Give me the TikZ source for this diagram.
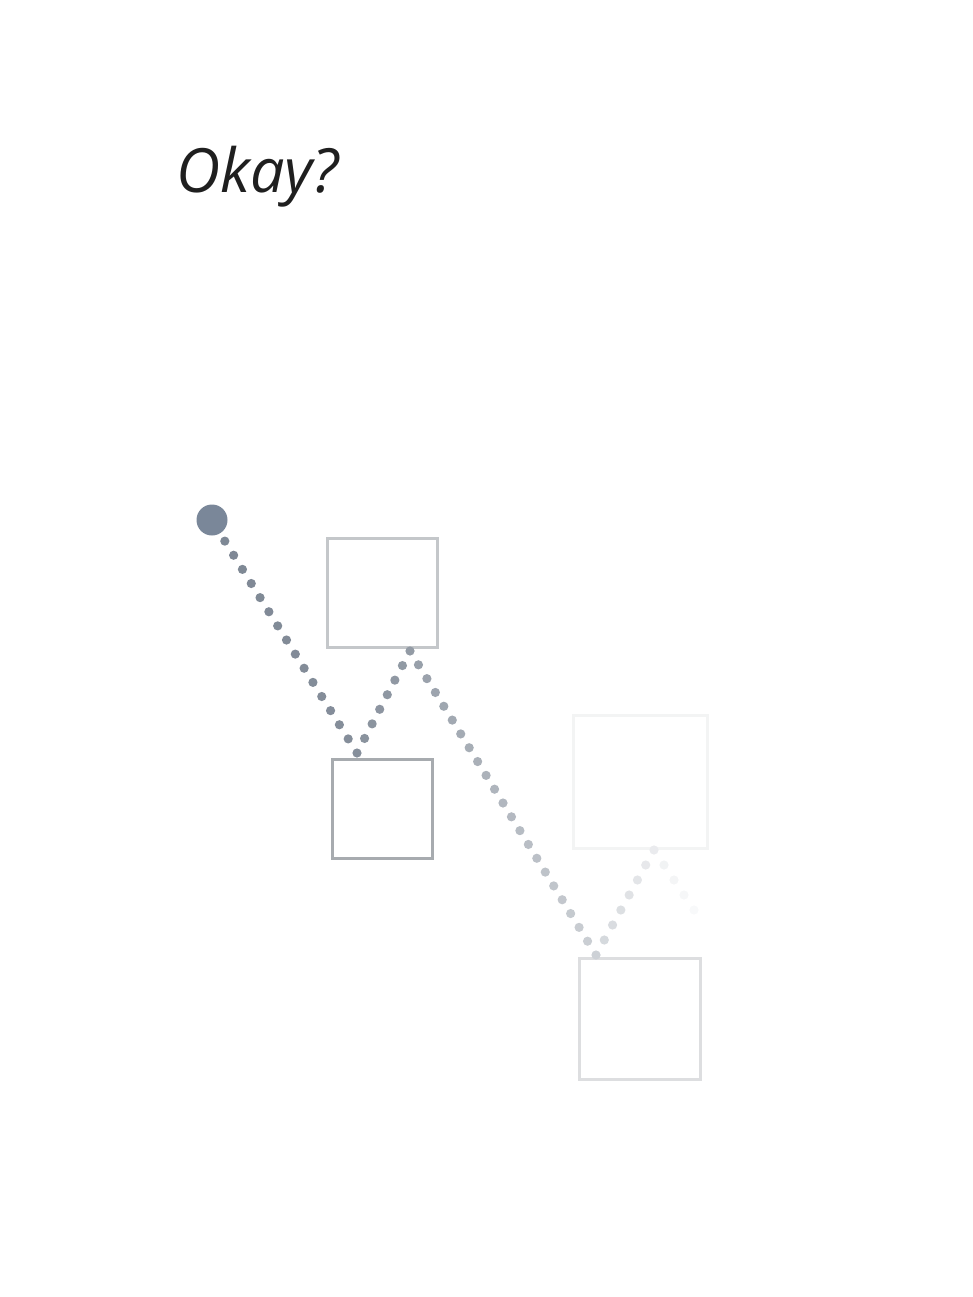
\documentclass[tikz,border=0pt]{standalone}
\usepackage{fontspec}
\setmainfont{Open Sans}
\usetikzlibrary{calc}
\definecolor{dotGray}{HTML}{7B8592}
\definecolor{startGray}{HTML}{7A8799}
\definecolor{boxGray}{HTML}{9DA2A6}
\begin{document}
\begin{tikzpicture}[x=1pt, y=-1pt,
    boxStyle/.style={rectangle, draw, line width=3pt, fill=white, inner sep=0pt},
    startStyle/.style={circle, fill=startGray, minimum size=31pt, inner sep=0pt}]
    \useasboundingbox (0,0) rectangle (973,1297);

    \node[anchor=base west, font=\fontsize{61}{68}\selectfont\itshape, text=black!88] (title) at (173,193) {Okay?};

    \node[boxStyle, draw=boxGray!60, minimum width=110pt, minimum height=109pt] (box1) at (382,592.5) {};
    \node[boxStyle, draw=boxGray!90, minimum width=100pt, minimum height=99pt] (box2) at (382,808.5) {};
    \node[boxStyle, draw=boxGray!12, minimum width=134pt, minimum height=133pt] (box3) at (640,781.5) {};
    \node[boxStyle, draw=boxGray!35, minimum width=121pt, minimum height=121pt] (box4) at (639.5,1018.5) {};
    \node[startStyle] (start) at (212,520) {};

    \coordinate (s0) at (216,527);
    \coordinate (v1) at (357,753);
    \coordinate (v2) at (410,651);
    \coordinate (v3) at (596,955);
    \coordinate (v4) at (654,850);
    \coordinate (fade) at (694,910);

    \foreach \a/\b/\n/\p/\q in {s0/v1/16/98/92, v1/v2/7/90/82, v2/v3/22/80/38, v3/v4/7/34/16, v4/fade/4/12/5}
        \foreach \i in {1,...,\n} {
            \pgfmathsetmacro\pct{\p+(\q-\p)*\i/\n}
            \fill[dotGray!\pct!white] ($(\a)!\i/\n!(\b)$) circle (4.6);
        }
\end{tikzpicture}
\end{document}
